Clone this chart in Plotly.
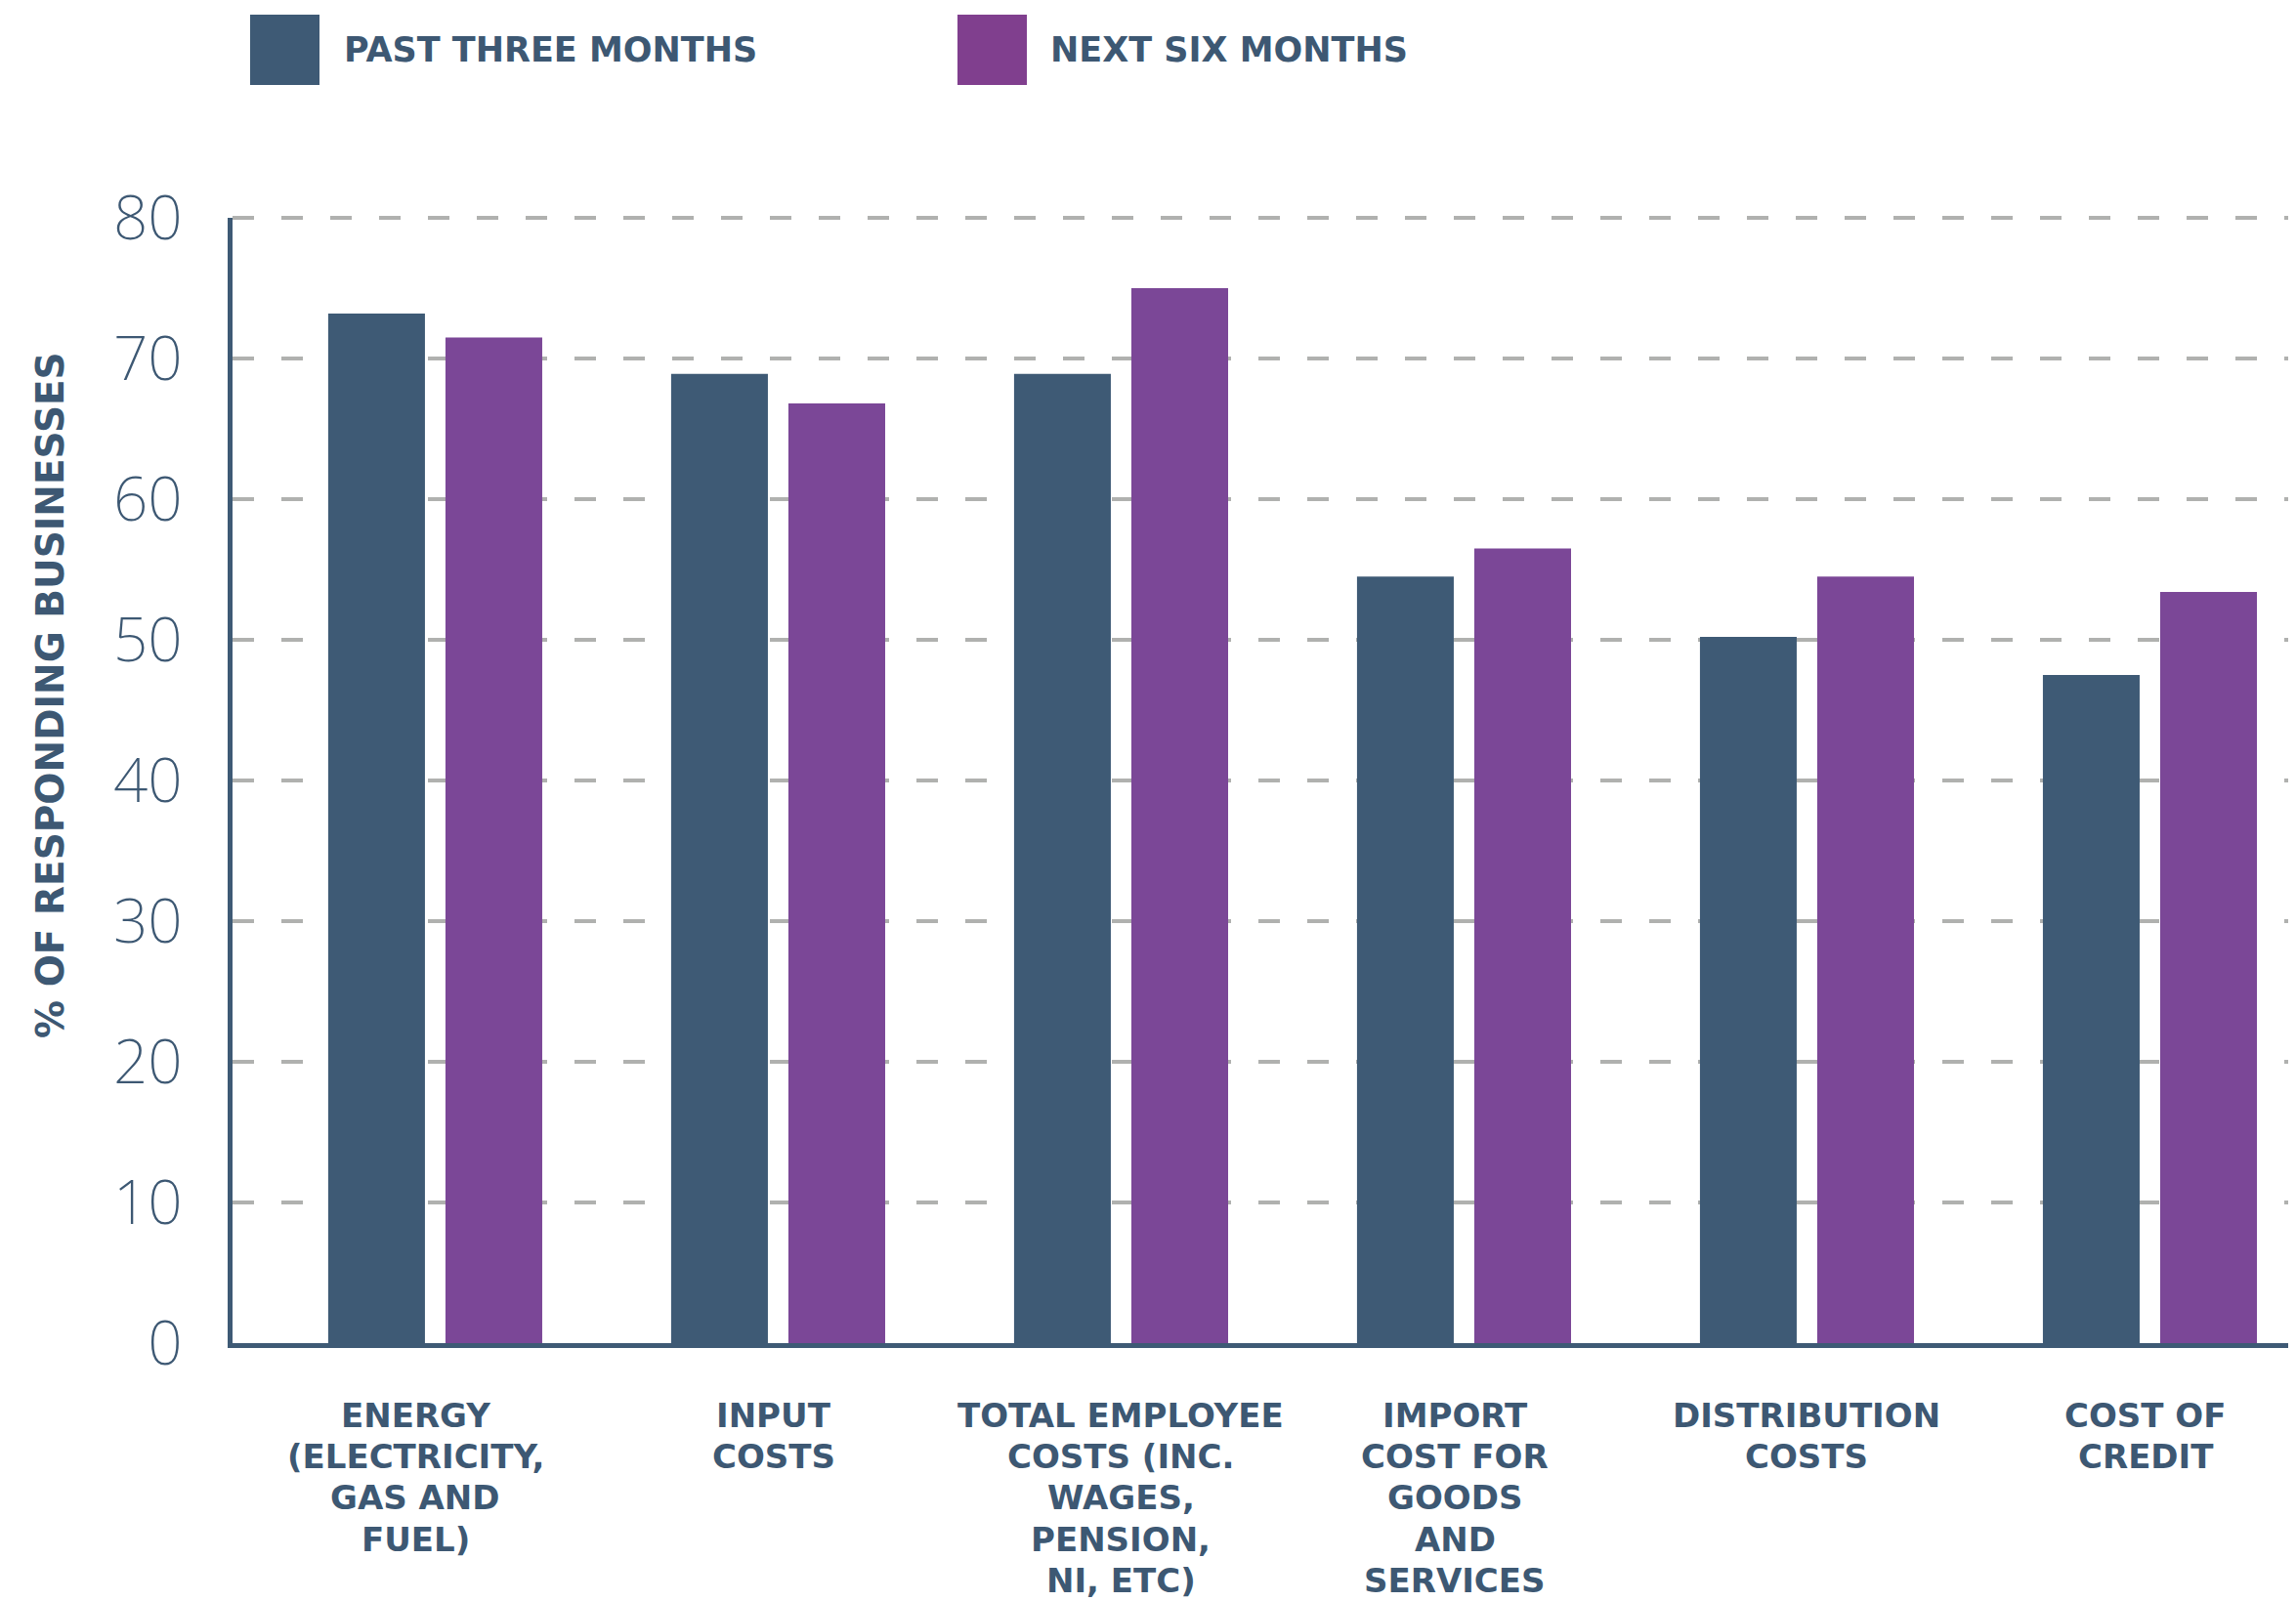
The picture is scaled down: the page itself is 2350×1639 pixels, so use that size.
import plotly.graph_objects as go

categories = ["Energy", "Input costs", "Total employee costs", "Import cost", "Distribution costs", "Cost of credit"]
category_labels = [
    ["ENERGY", "(ELECTRICITY,", "GAS AND", "FUEL)"],
    ["INPUT", "COSTS"],
    ["TOTAL EMPLOYEE", "COSTS (INC.", "WAGES,", "PENSION,", "NI, ETC)"],
    ["IMPORT", "COST FOR", "GOODS", "AND", "SERVICES"],
    ["DISTRIBUTION", "COSTS"],
    ["COST OF", "CREDIT"],
]
series_names = ["PAST THREE MONTHS", "NEXT SIX MONTHS"]
past_three_months = [73.2, 68.9, 68.9, 54.5, 50.2, 47.5]
next_six_months = [71.5, 66.8, 75.0, 56.5, 54.5, 53.4]
y_ticks = [0, 10, 20, 30, 40, 50, 60, 70, 80]

# label horizontal nudges (px), styling only
label_xshift = [-20, -4, 0, -9, 0, -4]

DARK = "#3e5a75"
PURPLE = "#7b4797"
LEG_PURPLE = "#803f8e"
TEXT = "#3d5873"
GRID = "#b0b1af"
OFF = 8  # page body margin
W, H = 2350 - OFF, 1639 - OFF
ML, MR, MT = 238 - OFF, 0, 223 - OFF
PH = 1152
MB = H - MT - PH
PW = W - ML - MR


def px_x(v):
    return (v - OFF - ML) / PW


def px_y(v):
    return (MT + PH - (v - OFF)) / PH


fig = go.Figure()
fig.add_trace(go.Bar(x=categories, y=past_three_months, name=series_names[0],
                     marker=dict(color=DARK, line=dict(width=0))))
fig.add_trace(go.Bar(x=categories, y=next_six_months, name=series_names[1],
                     marker=dict(color=PURPLE, line=dict(width=0))))

annotations = []
for cat, lines, xs in zip(categories, category_labels, label_xshift):
    for i, ln in enumerate(lines):
        annotations.append(dict(
            x=cat, xref="x", y=0, yref="paper", yanchor="middle", xanchor="center",
            yshift=-(74 + i * 42.2), xshift=xs, text=ln, showarrow=False,
            font=dict(family="DejaVu Sans", size=34, color=TEXT, weight=700)))

annotations.append(dict(
    x=px_x(51), xref="paper", y=px_y(712), yref="paper",
    xanchor="center", yanchor="middle", textangle=-90,
    text="% OF RESPONDING BUSINESSES", showarrow=False,
    font=dict(family="DejaVu Sans", size=39, color=TEXT, weight=700)))

shapes = []
# top gridline at the top of the y range (plotly drops the gridline at the range end)
shapes.append(dict(type="line", xref="paper", yref="paper", x0=0, x1=1,
                   y0=1, y1=1, layer="below",
                   line=dict(color=GRID, width=4, dash="22px,28px")))
legend_items = [(series_names[0], DARK, 256, 327, 350), (series_names[1], LEG_PURPLE, 980, 1051, 1073)]
for name, col, x0, x1, tx in legend_items:
    shapes.append(dict(type="rect", xref="paper", yref="paper",
                       x0=px_x(x0), x1=px_x(x1), y0=px_y(87), y1=px_y(15),
                       fillcolor=col, line=dict(width=0)))
    annotations.append(dict(
        x=px_x(tx), xref="paper", y=px_y(51), yref="paper",
        xanchor="left", yanchor="middle", text=name, showarrow=False,
        font=dict(family="DejaVu Sans", size=35, color=TEXT, weight=700)))

fig.update_layout(
    width=W, height=H,
    margin=dict(l=ML, r=MR, t=MT, b=MB, pad=0),
    paper_bgcolor="white", plot_bgcolor="white",
    barmode="group", bargap=0.316, bargroupgap=0.175,
    showlegend=False,
    annotations=annotations, shapes=shapes,
    xaxis=dict(type="category", range=[-0.591, 5.426], showticklabels=False,
               showgrid=False, zeroline=False, showline=True, linecolor=DARK,
               linewidth=5, ticks=""),
    yaxis=dict(range=[y_ticks[0], y_ticks[-1]], tickvals=y_ticks, showgrid=True, gridcolor=GRID,
               gridwidth=4, griddash="22px,28px", zeroline=False, showline=True,
               linecolor=DARK, linewidth=5, ticks="", ticklabelstandoff=34,
               tickfont=dict(family="Noto Sans", size=62, color=TEXT, weight=200)),
)

fig.write_html("out.html")
